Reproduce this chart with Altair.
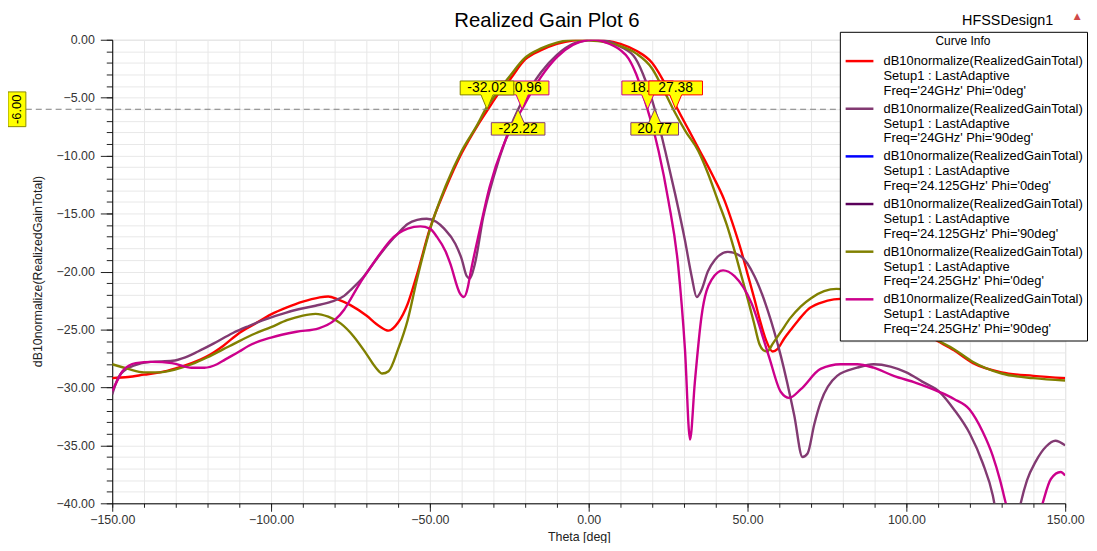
import altair as alt
import pandas as pd

FONT = "Liberation Sans"

# ---------------- data ----------------
series_keys = [
    "dB10normalize(RealizedGainTotal)|Setup1 : LastAdaptive|Freq='24GHz' Phi='0deg'",
    "dB10normalize(RealizedGainTotal)|Setup1 : LastAdaptive|Freq='24GHz' Phi='90deg'",
    "dB10normalize(RealizedGainTotal)|Setup1 : LastAdaptive|Freq='24.125GHz' Phi='0deg'",
    "dB10normalize(RealizedGainTotal)|Setup1 : LastAdaptive|Freq='24.125GHz' Phi='90deg'",
    "dB10normalize(RealizedGainTotal)|Setup1 : LastAdaptive|Freq='24.25GHz' Phi='0deg'",
    "dB10normalize(RealizedGainTotal)|Setup1 : LastAdaptive|Freq='24.25GHz' Phi='90deg'",
]
series_colors = ["#FF0000", "#823A72", "#0000FF", "#5A005A", "#808000", "#CC008C"]

# 24GHz Phi=0
red_theta = [-150, -145, -140, -135, -130, -125, -120, -115, -110, -105, -100, -95, -90, -85, -82, -79,
             -75, -70, -66, -63, -60, -57, -54, -50, -45, -40, -35, -31.7, -28, -25, -20, -15, -10, -5,
             0, 1.5, 5, 10, 15, 20, 25, 28, 31.5, 35, 39, 42.8, 45, 48, 50, 52.2, 54, 55.8, 57.9, 59.4,
             61.5, 63.7, 66, 68.9, 73, 77.2, 85, 95, 100, 108, 115, 121, 130, 140, 150]
red_db = [-29.2, -29.1, -28.9, -28.7, -28.35, -27.9, -27.3, -26.4, -25.3, -24.5, -23.7, -23.1, -22.6, -22.25,
          -22.15, -22.4, -22.9, -23.8, -24.7, -25.1, -24.4, -22.8, -20.2, -16.3, -12.8, -9.8, -7.4, -6.0,
          -4.5, -3.5, -1.7, -0.9, -0.35, -0.06, 0.0, 0.0, -0.06, -0.35, -0.95, -2.0, -4.3, -6.0, -7.8, -9.6,
          -11.7, -13.9, -15.6, -18.2, -20.2, -22.4, -24.3, -25.9, -26.9, -26.7, -25.8, -25.0, -24.2, -23.3,
          -22.7, -22.4, -22.3, -23.4, -24.1, -25.7, -26.8, -27.9, -28.7, -29.0, -29.2]

# 24GHz Phi=90
mau_theta = [-150, -148, -146, -143, -138, -131, -127, -123, -118, -112, -107, -102, -97, -92, -86, -81,
             -77, -75, -71, -67, -63, -60, -57, -54, -51, -48, -45.5, -42, -40, -38.4, -37.4, -35.8, -33.2,
             -30, -26, -22.2, -18, -15, -10, -5, 0, 3, 5, 10, 14.7, 18, 20.8, 24.1, 27.2, 30.3, 32.4, 34,
             35.5, 37.5, 39.7, 43.8, 48, 52.2, 56.3, 60.5, 64.7, 67.3, 68.9, 71, 73, 78.2, 84.5, 89.7, 95,
             100, 105, 110.5, 115, 120, 124, 127.2, 129, 132, 134.5, 136, 138, 140.7, 144, 146.9, 150]
mau_db = [-30.6, -29.1, -28.5, -28.1, -27.8, -27.7, -27.4, -26.9, -26.2, -25.3, -24.7, -24.15, -23.7, -23.3,
          -22.95, -22.6, -22.1, -21.6, -20.5, -19.0, -17.6, -16.7, -15.9, -15.55, -15.45, -15.7, -16.3,
          -17.6, -18.9, -20.4, -20.6, -19.3, -15.3, -11.9, -8.5, -6.0, -4.0, -2.8, -1.3, -0.35, -0.05, 0.0,
          -0.05, -0.6, -1.6, -3.6, -6.0, -9.6, -13.3, -17.3, -20.4, -22.2, -21.6, -20.0, -19.0, -18.3, -18.7,
          -20.4, -23.3, -27.3, -32.4, -36.0, -35.7, -33.2, -31.3, -29.0, -28.3, -28.0, -28.2, -28.7, -29.5,
          -30.4, -31.9, -34.0, -36.5, -39.3, -42.0, -45.0, -42.0, -40.0, -38.0, -36.4, -35.1, -34.6, -35.0]

# 24.25GHz Phi=0
oli_theta = [-150, -145, -140, -135, -130, -125, -120, -115, -110, -105, -100, -95, -90, -86, -82, -78,
             -74, -70, -67, -65, -63, -60, -57, -54, -50, -45, -40, -35, -32.5, -30, -25, -20, -15, -10,
             -5, 0, 5, 10, 15, 20, 23, 26.6, 30.5, 34.5, 37.5, 40.7, 43.5, 45.9, 48, 50.1, 52, 53.8, 55,
             56.2, 58, 60.5, 63.5, 66.8, 70, 74.1, 78, 84, 90, 96, 102, 108, 115, 121, 130, 140, 150]
oli_db = [-28.0, -28.4, -28.7, -28.7, -28.45, -28.0, -27.4, -26.7, -26.0, -25.35, -24.8, -24.2, -23.8,
          -23.65, -23.9, -24.5, -25.6, -27.1, -28.3, -28.8, -28.6, -26.7, -24.2, -20.6, -16.4, -12.6, -9.6,
          -7.3, -6.0, -5.0, -3.2, -1.55, -0.75, -0.25, 0.0, -0.05, -0.2, -0.55, -1.2, -2.5, -4.0, -6.0, -7.9,
          -9.6, -11.5, -13.9, -16.0, -18.2, -20.3, -22.4, -24.4, -26.3, -26.8, -26.9, -26.2, -25.2, -24.0,
          -23.0, -22.3, -21.7, -21.5, -21.7, -22.3, -23.0, -24.0, -25.6, -26.7, -27.8, -28.8, -29.2, -29.4]

# 24.25GHz Phi=90
mag_theta = [-150, -148, -146.8, -142.6, -137.4, -131.2, -125, -121, -117, -114.5, -110, -107, -100, -92,
             -85, -80, -77, -75, -72, -68.6, -65, -62.4, -57, -53, -50, -47.8, -45, -43.6, -40.5, -39.3, -38,
             -37.4, -34.3, -31.2, -27, -24, -21, -18, -15, -10, -5, 0, 2, 5, 10, 12.5, 15, 18.5, 20, 22, 25.1,
             28.2, 30.3, 31.9, 33.4, 35.5, 38.7, 42.3, 45.9, 51.2, 56.7, 60.5, 63.1, 66.8, 73, 79.3, 84.5,
             89.7, 96, 103, 110.5, 115, 119.9, 124, 127.2, 129.5, 131.3, 134, 137, 140, 142.9, 145.5, 148.6, 150]
mag_db = [-30.3, -29.2, -28.6, -27.9, -27.8, -27.9, -28.3, -28.3, -28.0, -27.6, -26.9, -26.4, -25.7, -25.2,
          -24.9, -24.2, -23.3, -22.4, -21.0, -19.6, -18.2, -17.3, -16.3, -16.1, -16.3, -17.0, -18.3, -19.3,
          -21.9, -22.2, -21.3, -20.4, -16.4, -12.7, -9.2, -7.4, -6.0, -4.5, -3.2, -1.5, -0.45, -0.02, 0.0,
          -0.2, -0.9, -1.6, -3.0, -6.0, -7.4, -9.6, -13.9, -19.6, -26.7, -34.5, -29.6, -23.9, -20.7, -19.9,
          -20.4, -22.7, -27.3, -30.4, -30.9, -30.15, -28.4, -28.0, -28.0, -28.3, -29.0, -29.6, -30.4, -31.0,
          -31.9, -33.8, -35.9, -38.0, -40.0, -43.0, -45.0, -43.0, -40.0, -37.9, -37.3, -37.6]

# markers at the -6 dB level (label, theta, curve index, side)
marker_labels = ["-20.96", "-32.02", "-22.22", "18.57", "27.38", "20.77"]
marker_theta = [-20.96, -32.02, -22.22, 18.57, 27.38, 20.77]
marker_curve = [5, 4, 1, 5, 0, 1]
marker_side = ["above", "above", "below", "above", "above", "below"]
level_db = -6.0

# ---------------- build tables ----------------
rows = []
for key, th, db in [(series_keys[0], red_theta, red_db), (series_keys[1], mau_theta, mau_db),
                    (series_keys[4], oli_theta, oli_db), (series_keys[5], mag_theta, mag_db)]:
    for i, (t, d) in enumerate(zip(th, db)):
        rows.append({"theta": t, "db": d, "series": key, "idx": i})
lines_df = pd.DataFrame(rows)


def callout(width, side):
    if side == "above":
        h0, h1 = 14.5, 28.5
        return f"M{-width/2},{-h1}H{width/2}V{-h0}H6L0,0L-6,{-h0}H{-width/2}Z"
    h0, h1 = 13.5, 26
    return f"M{-width/2},{h1}H{width/2}V{h0}H6L0,0L-6,{h0}H{-width/2}Z"


box_width = {"-20.96": 54, "-32.02": 54, "-22.22": 54, "18.57": 52, "27.38": 54, "20.77": 48}
mk_rows = []
for lab, th, ci, side in zip(marker_labels, marker_theta, marker_curve, marker_side):
    mk_rows.append({"label": lab, "theta": th, "db": level_db, "bcolor": series_colors[ci],
                    "path": callout(box_width[lab], side), "side": side})
mk_df = pd.DataFrame(mk_rows)
one_df = pd.DataFrame({"y": [level_db]})

# ---------------- scales & axes ----------------
xs = alt.Scale(domain=[-150, 150], nice=False, zero=False)
ys = alt.Scale(domain=[-40, 0], nice=False, zero=False)

x_major = alt.Axis(values=list(range(-150, 151, 50)), format=".2f", orient="bottom", tickSize=8,
                   tickColor="#222", domainColor="#000", gridColor="#C4C4C4", labelFont=FONT,
                   labelFontSize=12.5, labelColor="#333", labelPadding=2, labelFlush=False,
                   title="Theta [deg]", titleFont=FONT, titleFontSize=12.5, titleFontWeight="normal",
                   titleColor="#222", titleX=470, titleY=33, titleAlign="center", titleBaseline="middle")
y_major = alt.Axis(values=list(range(-40, 1, 5)), format=".2f", orient="left", tickSize=12,
                   tickColor="#222", domainColor="#000", gridColor="#C4C4C4", labelFont=FONT,
                   labelFontSize=12.5, labelColor="#333", labelPadding=6,
                   title="dB10normalize(RealizedGainTotal)", titleFont=FONT, titleFontSize=12.5,
                   titleFontWeight="normal", titleColor="#222", titleX=-75, titleY=233, titleAngle=270,
                   titleAlign="center", titleBaseline="middle")
x_minor = alt.Axis(values=list(range(-150, 151, 10)), orient="bottom", labels=False, tickSize=4,
                   tickColor="#222", domain=False, gridColor="#E8E8E8", title=None)
y_minor = alt.Axis(values=list(range(-40, 1, 1)), orient="left", labels=False, tickSize=6,
                   tickColor="#222", domain=False, gridColor="#E8E8E8", title=None)

legend = alt.Legend(orient="none", legendX=733, legendY=-8, title="Curve Info", titleFont=FONT,
                    titleFontSize=12, titleFontWeight="normal", titleColor="#000", titleAnchor="middle",
                    titleAlign="center", titlePadding=7, labelFont=FONT, labelFontSize=13,
                    labelColor="#000", labelExpr="split(datum.label, '|')", labelLimit=400,
                    symbolType="M-1,0H5", symbolSize=87, symbolStrokeWidth=2.5,
                    fillColor="#FFFFFF", strokeColor="#000000", padding=4, rowPadding=4, labelOffset=27)

# ---------------- layers ----------------
minor_layer = alt.Chart(mk_df).mark_point(opacity=0).encode(
    x=alt.X("theta:Q", scale=xs, axis=x_minor),
    y=alt.Y("db:Q", scale=ys, axis=y_minor),
)

lines = alt.Chart(lines_df).mark_line(strokeWidth=2.4, clip=True, interpolate="monotone").encode(
    x=alt.X("theta:Q", scale=xs, axis=x_major),
    y=alt.Y("db:Q", scale=ys, axis=y_major),
    color=alt.Color("series:N", scale=alt.Scale(domain=series_keys, range=series_colors), legend=legend),
    order="idx:Q",
)

level_rule = alt.Chart(one_df).mark_rule(color="#808080", strokeDash=[6, 4], strokeWidth=1).encode(
    x=alt.value(-87), x2=alt.value(960), y=alt.Y("y:Q", scale=ys, axis=None)
)
level_box = alt.Chart(one_df).mark_point(shape="M-9,-17.5H9V17.5H-9Z", size=4, filled=True, fill="#FFFF00",
                                         stroke="#8A8A00", strokeWidth=1, opacity=1).encode(
    x=alt.value(-96), y=alt.Y("y:Q", scale=ys, axis=None)
)
level_text = alt.Chart(one_df).mark_text(text="-6.00", angle=270, font=FONT, fontSize=13, color="#000",
                                         baseline="middle", align="center").encode(
    x=alt.value(-96), y=alt.Y("y:Q", scale=ys, axis=None)
)

marker_layers = []
for lab, side in zip(marker_labels, marker_side):
    sub = alt.Chart(mk_df).transform_filter(alt.datum.label == lab)
    box = sub.mark_point(size=4, filled=True, fill="#FFFF00", strokeWidth=1, opacity=1).encode(
        x=alt.X("theta:Q", scale=xs, axis=None),
        y=alt.Y("db:Q", scale=ys, axis=None),
        shape=alt.Shape("path:N", scale=None, legend=None),
        stroke=alt.Stroke("bcolor:N", scale=None, legend=None),
    )
    txt = sub.mark_text(font=FONT, fontSize=14, color="#000", baseline="middle", align="center",
                        dy=-21.5 if side == "above" else 19.8).encode(
        x=alt.X("theta:Q", scale=xs, axis=None),
        y=alt.Y("db:Q", scale=ys, axis=None),
        text="label:N",
    )
    marker_layers += [box, txt]

title_txt = alt.Chart(one_df).mark_text(text="Realized Gain Plot 6", font=FONT, fontSize=20.5, color="#000",
                                        align="center", baseline="alphabetic").encode(
    x=alt.value(438), y=alt.value(-13))
design_txt = alt.Chart(one_df).mark_text(text="HFSSDesign1", font=FONT, fontSize=14.5, color="#000",
                                         align="center", baseline="alphabetic").encode(
    x=alt.value(902), y=alt.value(-15))
logo = alt.Chart(one_df).mark_text(text="▲", font="DejaVu Sans", fontSize=9, color="#D04848",
                                   align="center", baseline="middle").encode(
    x=alt.value(972), y=alt.value(-24))

chart = alt.layer(
    minor_layer, lines, level_rule, level_box, level_text, *marker_layers, title_txt, design_txt, logo
).resolve_axis(x="independent", y="independent").properties(
    width=960, height=467,
    autosize=alt.AutoSizeParams(type="none"),
    padding={"left": 105, "top": 30, "right": 24, "bottom": 38},
).configure_view(stroke="#000", strokeWidth=1).configure(background="#FFFFFF")

chart.save("out.html", embed_options={"renderer": "svg", "actions": False})
